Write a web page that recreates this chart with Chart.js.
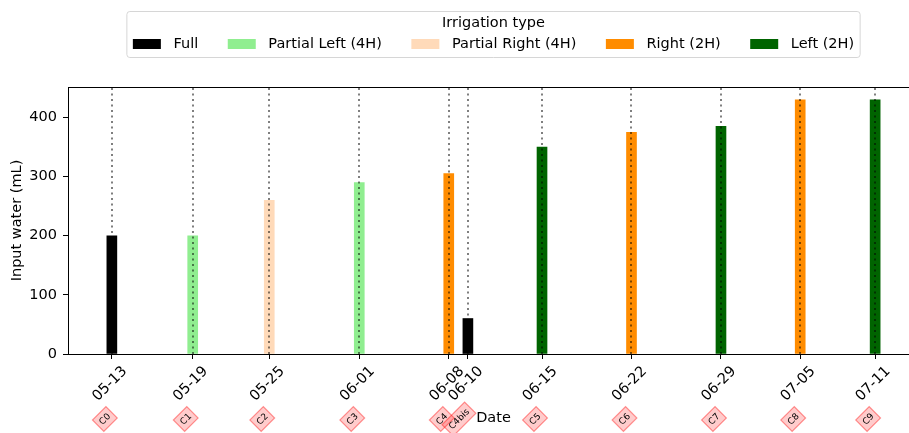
<!DOCTYPE html>
<html>
<head>
<meta charset="utf-8">
<script src="https://cdn.jsdelivr.net/npm/chart.js@4/dist/chart.umd.min.js"></script>
<style>
  html, body { margin: 0; padding: 0; background: #fff; overflow: hidden; }
  #wrap { width: 909px; height: 433px; overflow: hidden; position: relative; }
  canvas { display: block; }
</style>
</head>
<body>
<div id="wrap"><canvas id="c" width="920" height="433"></canvas></div>
<script>
// Irrigation sessions: timestamp (MM-DD HH:MM), input water (mL), irrigation type, campaign tag
const sessions = ['05-13 12:00', '05-19 18:00', '05-25 16:00', '06-01 15:00', '06-08 13:00', '06-10 00:30',
                  '06-15 18:00', '06-22 16:00', '06-29 14:00', '07-05 17:00', '07-11 12:00'];
const water = [200, 200, 260, 290, 305, 60, 350, 375, 385, 430, 430];
const irrigation = ['Full', 'Partial Left (4H)', 'Partial Right (4H)', 'Partial Left (4H)', 'Right (2H)', 'Full',
                    'Left (2H)', 'Right (2H)', 'Left (2H)', 'Right (2H)', 'Left (2H)'];
const campaigns = ['C0', 'C1', 'C2', 'C3', 'C4', 'C4bis', 'C5', 'C6', 'C7', 'C8', 'C9'];
const types = ['Full', 'Partial Left (4H)', 'Partial Right (4H)', 'Right (2H)', 'Left (2H)'];
const yTicks = [0, 100, 200, 300, 400];

const typeColors = ['#000000', '#90ee90', '#ffdab9', '#ff8c00', '#006400'];
const FONT = "'DejaVu Sans', sans-serif";
const FS = 14.5;

const monthStart = [0, 31, 59, 90, 120, 151, 181, 212, 243, 273, 304, 334];
// fractional day of year from 'MM-DD HH:MM'
function dayOfYear(s) {
  const [md, hm] = s.split(' ');
  const [m, d] = md.split('-').map(Number);
  const [h, mi] = hm.split(':').map(Number);
  return monthStart[m - 1] + d + (h + mi / 60) / 24;
}
const days = sessions.map(dayOfYear);
const dateLabels = sessions.map(s => s.split(' ')[0]);
const barDays = 0.8;
const span = days[days.length - 1] - days[0] + barDays;
const xPad = 0.05 * span + barDays / 2;
const yMax = Math.max(...water) * 1.05;

const datasets = types.map((t, i) => ({
  type: 'bar',
  label: t,
  data: days.map((d, j) => irrigation[j] === t ? { x: d, y: water[j] } : null).filter(Boolean),
  backgroundColor: typeColors[i],
  borderWidth: 0,
  barThickness: 10,
  grouped: false
}));

// dotted guide at every session, over the bars
const guides = {
  id: 'guides',
  afterDatasetsDraw(chart) {
    const { ctx, chartArea: a, scales: { x } } = chart;
    ctx.save();
    ctx.strokeStyle = 'rgba(0,0,0,0.5)';
    ctx.lineWidth = 2;
    ctx.setLineDash([2, 3.5]);
    days.forEach(d => {
      const px = Math.round(x.getPixelForValue(d));
      ctx.beginPath();
      ctx.moveTo(px, a.bottom);
      ctx.lineTo(px, a.top);
      ctx.stroke();
    });
    ctx.restore();
  }
};

// frame, legend box and campaign tags
const decor = {
  id: 'decor',
  afterDraw(chart) {
    const { ctx, chartArea: a, scales: { x } } = chart;
    ctx.save();
    // axes frame
    ctx.strokeStyle = '#000';
    ctx.lineWidth = 1;
    ctx.strokeRect(Math.round(a.left) + 0.5, Math.round(a.top) + 0.5,
                   Math.round(a.right - a.left), Math.round(a.bottom - a.top));

    // legend
    ctx.font = FS + 'px ' + FONT;
    const handleW = 28, handleH = 10, textGap = 12.6, colGap = 29.5, pad = 6;
    const widths = types.map(t => ctx.measureText(t).width);
    const content = types.length * (handleW + textGap) + widths.reduce((s, w) => s + w, 0) + (types.length - 1) * colGap;
    const cx = (x.left + x.right) / 2;
    const boxL = cx - content / 2 - pad, boxW = content + 2 * pad, boxT = 11.5, boxH = 46;
    ctx.beginPath();
    ctx.roundRect(boxL, boxT, boxW, boxH, 3);
    ctx.fillStyle = 'rgba(255,255,255,0.8)';
    ctx.fill();
    ctx.strokeStyle = '#d6d6d6';
    ctx.stroke();
    ctx.fillStyle = '#000';
    ctx.textAlign = 'center';
    ctx.textBaseline = 'middle';
    ctx.fillText('Irrigation type', cx, 23);
    let px = boxL + pad;
    ctx.textAlign = 'left';
    types.forEach((t, i) => {
      ctx.fillStyle = typeColors[i];
      ctx.fillRect(px, 44 - handleH / 2, handleW, handleH);
      ctx.fillStyle = '#000';
      ctx.fillText(t, px + handleW + textGap, 44);
      px += handleW + textGap + widths[i] + colGap;
    });

    // campaign tags below the axis
    ctx.font = '9px ' + FONT;
    const baseW = ctx.measureText('C0').width;
    campaigns.forEach((c, i) => {
      const tw = ctx.measureText(c).width;
      const tx = x.getPixelForValue(days[i]) - 7 - (tw - baseW) * 0.15;
      const ty = 419;
      const w = tw + 7, h = 16;
      ctx.save();
      ctx.translate(tx, ty);
      ctx.rotate(-Math.PI / 4);
      ctx.fillStyle = 'rgba(255,0,0,0.2)';
      ctx.strokeStyle = 'rgba(255,0,0,0.4)';
      ctx.lineWidth = 1.2;
      ctx.fillRect(-w / 2, -h / 2, w, h);
      ctx.strokeRect(-w / 2, -h / 2, w, h);
      ctx.fillStyle = '#000';
      ctx.textAlign = 'center';
      ctx.textBaseline = 'middle';
      ctx.fillText(c, 0, 0.5);
      ctx.restore();
    });
    ctx.restore();
  }
};

new Chart(document.getElementById('c'), {
  data: { datasets },
  options: {
    responsive: false,
    animation: false,
    devicePixelRatio: 1,
    layout: { padding: { top: 87, right: 1, left: 0, bottom: 0 } },
    plugins: { legend: { display: false }, tooltip: { enabled: false } },
    scales: {
      x: {
        type: 'linear',
        offset: false,
        min: days[0] - xPad,
        max: days[days.length - 1] + xPad,
        afterBuildTicks: s => { s.ticks = days.map(v => ({ value: v })); },
        afterFit: s => { s.height = 79; },
        ticks: {
          autoSkip: false,
          minRotation: 45,
          maxRotation: 45,
          padding: 4,
          labelOffset: 13,
          color: '#000',
          font: { family: FONT, size: FS },
          callback: v => dateLabels[days.indexOf(v)]
        },
        grid: { offset: false, drawOnChartArea: false, drawTicks: true, tickLength: 5, tickColor: '#000', lineWidth: 1 },
        border: { display: false },
        title: { display: true, text: 'Date', color: '#000', font: { family: FONT, size: FS }, padding: { bottom: 5.6, top: 0 } }
      },
      y: {
        type: 'linear',
        min: 0,
        max: yMax,
        afterBuildTicks: s => { s.ticks = yTicks.map(v => ({ value: v })); },
        afterFit: s => { s.width = 68; },
        ticks: { padding: 6, color: '#000', font: { family: FONT, size: FS } },
        grid: { drawOnChartArea: false, drawTicks: true, tickLength: 5, tickColor: '#000', lineWidth: 1 },
        border: { display: false },
        title: { display: true, text: 'Input water (mL)', color: '#000', font: { family: FONT, size: FS }, padding: { top: 9, bottom: 0 } }
      }
    }
  },
  plugins: [guides, decor]
});
</script>
</body>
</html>
